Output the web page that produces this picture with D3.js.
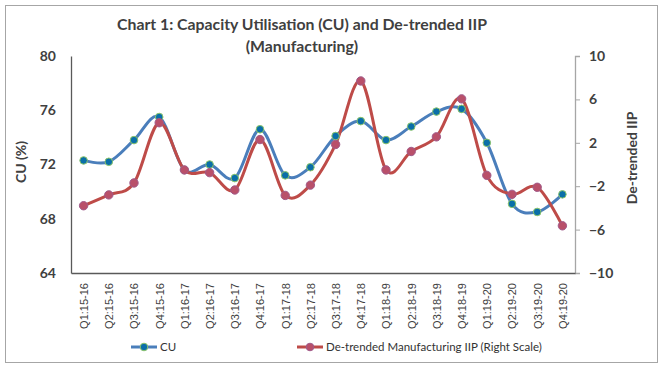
<!DOCTYPE html>
<html><head><meta charset="utf-8">
<script src="https://cdn.jsdelivr.net/npm/d3@7"></script>
<style>body{margin:0;background:#fff}svg{display:block}</style>
</head><body>
<svg id="c" width="667" height="369"></svg>
<script>
const categories = ["Q1:15-16","Q2:15-16","Q3:15-16","Q4:15-16","Q1:16-17","Q2:16-17","Q3:16-17","Q4:16-17","Q1:17-18","Q2:17-18","Q3:17-18","Q4:17-18","Q1:18-19","Q2:18-19","Q3:18-19","Q4:18-19","Q1:19-20","Q2:19-20","Q3:19-20","Q4:19-20"];
const cuValues = [72.3,72.2,73.8,75.5,71.6,72.0,71.0,74.6,71.2,71.8,74.1,75.2,73.8,74.8,75.9,76.1,73.6,69.1,68.5,69.8];
const iipValues = [-3.8,-2.8,-1.7,3.85,-0.5,-0.75,-2.35,2.3,-2.85,-1.9,1.85,7.7,-0.5,1.2,2.55,6.05,-1.0,-2.75,-2.1,-5.65];
const leftTicks = [64,68,72,76,80];
const rightTicks = [-10,-6,-2,2,6,10];

const svg = d3.select("#c");
const L = 71, R = 575, T = 56, B = 273;
const txt = "#404040";
const font = "Lato, 'Open Sans', sans-serif";

svg.append("rect").attr("x",5.5).attr("y",5.5).attr("width",652).attr("height",357)
  .attr("fill","#fff").attr("stroke","#a6a6a6").attr("stroke-width",1);

const x = d3.scalePoint().domain(categories).range([L,R]).padding(0.5);
const yL = d3.scaleLinear().domain([64,80]).range([B,T]);
const yR = d3.scaleLinear().domain([-10,10]).range([B,T]);

// title
const title = svg.append("text").attr("text-anchor","middle").attr("font-family",font)
  .attr("font-weight","bold").attr("font-size",15.8).attr("fill",txt);
title.append("tspan").attr("x",302).attr("y",30).text("Chart 1: Capacity Utilisation (CU) and De-trended IIP");
title.append("tspan").attr("x",302).attr("y",52).text("(Manufacturing)");

// left axis
const gL = svg.append("g").attr("transform",`translate(${L},0)`)
  .call(d3.axisLeft(yL).tickValues(leftTicks).tickSize(0).tickPadding(15).tickFormat(d3.format("d")));
gL.select(".domain").attr("stroke","#595959").attr("stroke-width",1.3);
gL.selectAll("text").attr("font-family",font).attr("font-weight","bold").attr("font-size",14).attr("fill",txt);

// right axis
const gR = svg.append("g").attr("transform",`translate(${R},0)`)
  .call(d3.axisRight(yR).tickValues(rightTicks).tickSize(5).tickPadding(9).tickFormat(d3.format("d")));
gR.select(".domain").attr("stroke","#a6a6a6").attr("stroke-width",1.3);
gR.selectAll("line").attr("stroke","#a6a6a6");
gR.selectAll("text").attr("font-family",font).attr("font-weight","bold").attr("font-size",14).attr("fill",txt);

// x axis
const gX = svg.append("g").attr("transform",`translate(0,${B})`)
  .call(d3.axisBottom(x).tickSize(0).tickPadding(10));
gX.select(".domain").attr("stroke","#595959").attr("stroke-width",1.3);
gX.selectAll("text").attr("font-family","'Liberation Sans', Arial, sans-serif").attr("font-size",11).attr("fill",txt)
  .attr("transform","rotate(-90)").attr("text-anchor","end").attr("dx","-10")
  .attr("x",0).attr("y",0).attr("dy","0.35em");

// axis titles
svg.append("text").attr("transform","translate(26,162) rotate(-90)").attr("text-anchor","middle")
  .attr("font-family",font).attr("font-weight","bold").attr("font-size",14).attr("fill",txt).text("CU (%)");
svg.append("text").attr("transform","translate(637,158) rotate(-90)").attr("text-anchor","middle")
  .attr("font-family",font).attr("font-weight","bold").attr("font-size",14).attr("fill",txt).text("De-trended IIP");

const blue = "#4a7ebb", red = "#be4b48";
const curve = d3.curveCardinal.tension(0);
const lineCU = d3.line().x((d,i)=>x(categories[i])).y(d=>yL(d)).curve(curve);
const lineIIP = d3.line().x((d,i)=>x(categories[i])).y(d=>yR(d)).curve(curve);

svg.append("path").attr("d",lineCU(cuValues)).attr("fill","none").attr("stroke",blue).attr("stroke-width",3);
svg.append("path").attr("d",lineIIP(iipValues)).attr("fill","none").attr("stroke",red).attr("stroke-width",3);

svg.selectAll(".mcu").data(cuValues).enter().append("circle")
  .attr("cx",(d,i)=>x(categories[i])).attr("cy",d=>yL(d)).attr("r",3.8)
  .attr("fill","#0a6fa8").attr("stroke","#8cc56a").attr("stroke-width",1);
svg.selectAll(".miip").data(iipValues).enter().append("circle")
  .attr("cx",(d,i)=>x(categories[i])).attr("cy",d=>yR(d)).attr("r",4.2)
  .attr("fill","#b9506a").attr("stroke","#a05a8a").attr("stroke-width",1);

// legend
const lg = svg.append("g");
function legendItem(x0, color, mfill, mstroke, label){
  lg.append("line").attr("x1",x0).attr("x2",x0+26).attr("y1",347).attr("y2",347).attr("stroke",color).attr("stroke-width",3);
  lg.append("circle").attr("cx",x0+13).attr("cy",347).attr("r",3.8).attr("fill",mfill).attr("stroke",mstroke);
  lg.append("text").attr("x",x0+29).attr("y",351).attr("font-family",font).attr("font-size",11.5)
    .attr("fill","#333").text(label);
}
legendItem(131, blue, "#0a6fa8", "#8cc56a", "CU");
legendItem(297, red, "#b9506a", "#a05a8a", "De-trended Manufacturing IIP (Right Scale)");
</script>
</body></html>
